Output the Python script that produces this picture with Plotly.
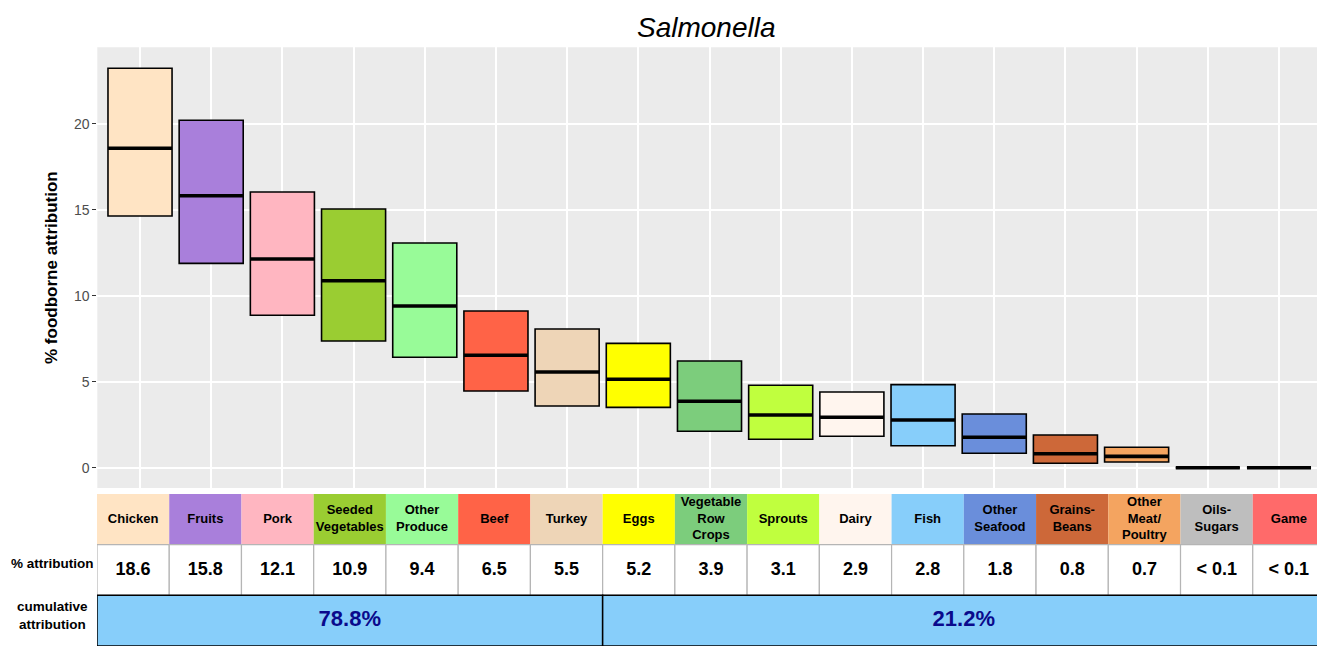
import plotly.graph_objects as go

# ---------------- data ----------------
categories = ["Chicken", "Fruits", "Pork", "Seeded Vegetables", "Other Produce", "Beef",
              "Turkey", "Eggs", "Vegetable Row Crops", "Sprouts", "Dairy", "Fish",
              "Other Seafood", "Grains-Beans", "Other Meat/Poultry", "Oils-Sugars", "Game"]
header_labels = ["Chicken", "Fruits", "Pork", "Seeded<br>Vegetables", "Other<br>Produce", "Beef",
                 "Turkey", "Eggs", "Vegetable<br>Row<br>Crops", "Sprouts", "Dairy", "Fish",
                 "Other<br>Seafood", "Grains-<br>Beans", "Other<br>Meat/<br>Poultry",
                 "Oils-<br>Sugars", "Game"]
median = [18.57, 15.81, 12.13, 10.87, 9.40, 6.54, 5.56, 5.14, 3.86, 3.06, 2.93, 2.77,
          1.77, 0.81, 0.66, 0.0, 0.0]
lower = [14.63, 11.88, 8.86, 7.37, 6.42, 4.46, 3.59, 3.51, 2.12, 1.65, 1.83, 1.28,
         0.84, 0.26, 0.33, 0.0, 0.0]
upper = [23.22, 20.20, 16.03, 15.04, 13.06, 9.11, 8.06, 7.23, 6.20, 4.79, 4.40, 4.83,
         3.12, 1.90, 1.19, 0.0, 0.0]
pct_text = ["18.6", "15.8", "12.1", "10.9", "9.4", "6.5", "5.5", "5.2", "3.9", "3.1",
            "2.9", "2.8", "1.8", "0.8", "0.7", "< 0.1", "< 0.1"]
colors = ["#FFE4C4", "#A97FDB", "#FFB6C1", "#9ACD32", "#98FB98", "#FF6347", "#EED5B7",
          "#FFFF00", "#7CCD7C", "#C0FF3E", "#FFF5EE", "#87CEFA", "#6A8EDB", "#CD6839",
          "#F4A460", "#BEBEBE", "#FF6A6A"]
cum_labels = ["78.8%", "21.2%"]
cum_sizes = [7, 10]
y_ticks = [0, 5, 10, 15, 20]
title_text = "Salmonella"

FONT = "Liberation Sans, Arial, sans-serif"
OFF = 8                      # page body margin
W, H = 1325 - OFF, 648 - OFF
BOX_W = 0.9

idx = list(range(len(categories)))

fig = go.Figure()

# ---------------- boxes ----------------
fig.add_trace(go.Bar(
    x=idx, y=[u - l for u, l in zip(upper, lower)], base=lower, width=BOX_W,
    marker=dict(color=colors, line=dict(color="black", width=1.6)),
    xaxis="x", yaxis="y", hoverinfo="skip", showlegend=False,
))

# median segments
mx, my = [], []
for i, m in zip(idx, median):
    mx += [i - BOX_W / 2, i + BOX_W / 2, None]
    my += [m, m, None]
fig.add_trace(go.Scatter(
    x=mx, y=my, mode="lines", line=dict(color="black", width=3.6),
    xaxis="x", yaxis="y", hoverinfo="skip", showlegend=False,
))

# ---------------- table ----------------
fig.add_trace(go.Bar(
    x=idx, y=[1] * len(idx), base=[2] * len(idx), width=1,
    marker=dict(color=colors, line=dict(width=0)),
    xaxis="x2", yaxis="y2", hoverinfo="skip", showlegend=False,
))
fig.add_trace(go.Bar(
    x=idx, y=[1] * len(idx), base=[1] * len(idx), width=1,
    marker=dict(color="white", line=dict(color="#B5B5B5", width=1.2)),
    xaxis="x2", yaxis="y2", hoverinfo="skip", showlegend=False,
))
cum_centers = []
start = 0
for s in cum_sizes:
    cum_centers.append(start + (s - 1) / 2)
    start += s
fig.add_trace(go.Bar(
    x=cum_centers, y=[1] * len(cum_sizes), base=[0] * len(cum_sizes), width=cum_sizes,
    marker=dict(color="#87CEFA", line=dict(color="black", width=1.5)),
    xaxis="x2", yaxis="y2", hoverinfo="skip", showlegend=False,
))

fig.add_trace(go.Scatter(
    x=idx, y=[2.5] * len(idx), mode="text", text=[f"<b>{t}</b>" for t in header_labels],
    textfont=dict(family=FONT, size=13, color="black"), cliponaxis=False,
    xaxis="x2", yaxis="y2", hoverinfo="skip", showlegend=False,
))
fig.add_trace(go.Scatter(
    x=idx, y=[1.5] * len(idx), mode="text", text=[f"<b>{t}</b>" for t in pct_text],
    textfont=dict(family=FONT, size=18, color="black"), cliponaxis=False,
    xaxis="x2", yaxis="y2", hoverinfo="skip", showlegend=False,
))
fig.add_trace(go.Scatter(
    x=cum_centers, y=[0.5] * len(cum_centers), mode="text",
    text=[f"<b>{t}</b>" for t in cum_labels],
    textfont=dict(family=FONT, size=22, color="#0A0A8C"), cliponaxis=False,
    xaxis="x2", yaxis="y2", hoverinfo="skip", showlegend=False,
))

# ---------------- layout ----------------
def px_x(p):
    return (p - OFF) / W


def px_y(p):
    return (H - (p - OFF)) / H


x_dom = [px_x(97.3), px_x(1321.7)]
y_dom = [px_y(488), px_y(47.3)]
x2_dom = [px_x(97), 1.0]
y2_dom = [px_y(646), px_y(494)]

fig.update_layout(
    template="none",
    width=W, height=H,
    margin=dict(l=0, r=0, t=0, b=0),
    paper_bgcolor="white", plot_bgcolor="white",
    barmode="overlay",
    font=dict(family=FONT, color="black"),
    xaxis=dict(domain=x_dom, range=[-0.6, len(idx) - 0.4], tickvals=idx,
               showticklabels=False, ticks="", showgrid=True, gridcolor="white",
               gridwidth=1.5, zeroline=False, showline=False, automargin=False),
    yaxis=dict(domain=y_dom, range=[-1.18, 24.44], tickvals=y_ticks,
               ticks="outside", ticklen=4, tickwidth=1, tickcolor="#333333",
               tickfont=dict(family=FONT, size=14, color="#4D4D4D"),
               showgrid=True, gridcolor="white", gridwidth=1.5, zeroline=False,
               showline=False, automargin=False,
               title=dict(text="<b>% foodborne attribution</b>", standoff=11,
                          font=dict(family=FONT, size=17, color="black"))),
    xaxis2=dict(domain=x2_dom, range=[-0.5, len(idx) - 0.5], anchor="y2",
                showticklabels=False, ticks="", showgrid=False, zeroline=False,
                showline=False, automargin=False),
    yaxis2=dict(domain=y2_dom, range=[0, 3], anchor="x2", showticklabels=False,
                ticks="", showgrid=False, zeroline=False, showline=False,
                automargin=False),
    shapes=[dict(type="rect", xref="x domain", yref="y domain", x0=0, x1=1, y0=0, y1=1,
                 fillcolor="#EBEBEB", line=dict(width=0), layer="below")],
    annotations=[
        dict(text=f"<i>{title_text}</i>", xref="paper", yref="paper", x=px_x(706),
             y=px_y(10), showarrow=False, xanchor="center", yanchor="top",
             font=dict(family=FONT, size=28, color="black")),
        dict(text="<b>% attribution</b>", xref="paper", yref="y2", x=px_x(52), y=1.62,
             showarrow=False, xanchor="center", yanchor="middle",
             font=dict(family=FONT, size=13.5, color="black")),
        dict(text="<b>cumulative<br>attribution</b>", xref="paper", yref="y2", x=px_x(52),
             y=0.6, showarrow=False, xanchor="center", yanchor="middle",
             font=dict(family=FONT, size=13.5, color="black")),
    ],
)

fig.write_html("out.html")
